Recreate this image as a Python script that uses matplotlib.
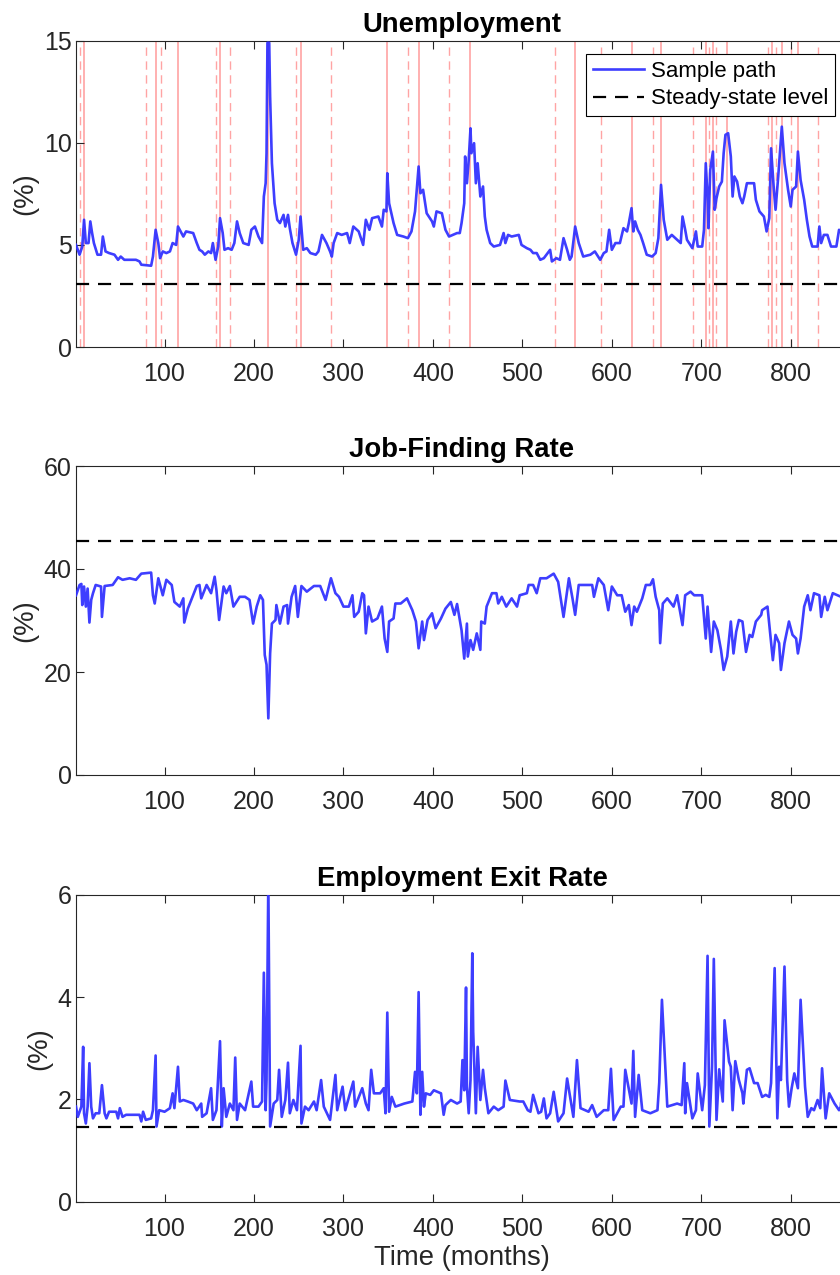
import numpy as np
import matplotlib
matplotlib.use("Agg")
import matplotlib.pyplot as plt

plt.rcParams['font.family'] = ['Liberation Sans', 'DejaVu Sans']

# simulated months
T_END = 864

# unemployment sample path (%): (month, value)
unemp = [
    (1, 5.0), (3, 4.76), (5, 4.52), (8, 4.92), (10, 6.23), (12, 5.09), (15, 5.09), (17, 6.15),
    (19, 5.58), (21, 5.09), (25, 4.52), (29, 4.52), (31, 5.41), (34, 4.68), (38, 4.6), (44, 4.52),
    (48, 4.27), (51, 4.43), (55, 4.27), (61, 4.27), (68, 4.27), (72, 4.19), (74, 4.03),
    (85, 3.98), (87, 4.43), (90, 5.74), (93, 5.09), (95, 4.35), (98, 4.68), (102, 4.6), (106, 4.68),
    (109, 5.09), (113, 5.0), (115, 5.9), (119, 5.58), (121, 5.41), (124, 5.66), (132, 5.58),
    (136, 5.09), (139, 4.76), (142, 4.68), (145, 4.52),
    (149, 4.68), (152, 4.6), (154, 5.09), (157, 4.27), (160, 4.92), (162, 6.31), (165, 5.58),
    (167, 4.76), (171, 4.84), (175, 4.76), (178, 5.09), (181, 6.15), (184, 5.58), (188, 5.09),
    (194, 5.0), (197, 5.74), (201, 5.9), (205, 5.41),
    (209, 5.09), (211, 7.37), (213, 8.02), (214, 9.49), (215, 14.9), (217, 14.9), (218, 12.26),
    (220, 9.0), (223, 7.04), (226, 6.23), (229, 6.07), (233, 6.47), (235, 5.9), (238, 6.47),
    (240, 5.82), (243, 5.09), (247, 4.52), (250, 5.25),
    (252, 6.39), (255, 4.76), (259, 4.84), (263, 4.6), (269, 4.52), (272, 4.68), (276, 5.49),
    (281, 5.09), (285, 4.68), (287, 4.43),
    (289, 5.09), (293, 5.58), (298, 5.49), (304, 5.58), (307, 5.09), (311, 5.9), (317, 5.66),
    (322, 5.0), (325, 6.23), (329, 5.74), (332, 6.31), (339, 6.39), (343, 5.9), (345, 6.72),
    (348, 6.64), (349, 8.51), (351, 7.04), (356, 6.07),
    (360, 5.49), (367, 5.41), (372, 5.33), (376, 5.66), (380, 6.64), (384, 8.84), (386, 7.53),
    (389, 7.7), (393, 6.55), (399, 6.15), (401, 5.9), (404, 6.64), (410, 6.55), (414, 5.74),
    (418, 5.41), (427, 5.58), (430, 5.58), (432, 6.07),
    (435, 7.04), (436, 9.33), (438, 8.02), (440, 9.16), (442, 10.71), (443, 9.49), (446, 9.98),
    (448, 8.02), (450, 9.0), (453, 7.37), (456, 7.86), (458, 6.39), (460, 5.74), (464, 5.09),
    (468, 4.92), (475, 5.0), (479, 5.58), (481, 5.09),
    (484, 5.49), (488, 5.41), (496, 5.49), (499, 5.0), (505, 4.84), (509, 4.76), (512, 4.6),
    (516, 4.6), (520, 4.27), (524, 4.35), (531, 4.76), (533, 4.19), (538, 4.35), (542, 4.27),
    (546, 5.33), (550, 4.76), (553, 4.27), (555, 4.43),
    (559, 5.9), (563, 5.09), (568, 4.43), (576, 4.52), (581, 4.68),
    (587, 4.27), (591, 4.6), (594, 4.68), (597, 5.74), (600, 4.76), (604, 5.09), (609, 5.09),
    (613, 5.82), (617, 5.66), (619, 6.07), (622, 6.8), (624, 5.66), (626, 6.15), (629, 5.74),
    (632, 5.49), (635, 5.09), (639, 4.52), (645, 4.43),
    (649, 4.6), (652, 5.33), (655, 7.94), (658, 6.23), (662, 5.25), (667, 5.49), (673, 5.25),
    (677, 5.09), (679, 6.39), (682, 5.74), (684, 5.25), (690, 4.84), (694, 5.66), (696, 4.92),
    (701, 4.92), (703, 5.74), (705, 9.0), (707, 7.37),
    (708, 5.82), (710, 8.67), (713, 9.57), (715, 6.72), (717, 7.29), (720, 7.86), (723, 8.1),
    (725, 9.49), (727, 10.39), (730, 10.47), (733, 9.33), (735, 7.37), (737, 8.35), (740, 8.1),
    (743, 7.37), (746, 7.04), (748, 7.37), (751, 8.02),
    (759, 8.02), (761, 7.21), (765, 6.64), (770, 6.39), (773, 5.66), (776, 6.31), (778, 9.73),
    (781, 7.78), (783, 6.72), (786, 8.35), (790, 10.79), (793, 9.0), (797, 7.7), (800, 6.88),
    (802, 7.7), (806, 7.86), (808, 9.57), (811, 8.18),
    (815, 7.21), (818, 6.23), (821, 5.41), (824, 4.92), (830, 4.92), (832, 5.9), (834, 5.09),
    (837, 5.49), (841, 5.49), (845, 4.92), (851, 4.92), (854, 5.74), (858, 5.5), (864, 5.3),
]
unemp_steady = 3.10

# job-finding rate (%): (month, value)
jobfind = [
    (1, 34.9), (5, 36.9), (7, 37.1), (8, 33.0), (10, 36.6), (12, 32.7), (14, 36.2), (16, 29.6),
    (18, 34.0), (20, 35.3), (23, 36.9), (29, 36.6), (30, 30.7), (33, 36.7), (42, 36.9), (48, 38.4),
    (53, 37.9), (61, 38.2), (68, 37.9), (74, 39.1), (85, 39.3), (87, 34.9), (89, 33.3), (93, 38.2),
    (98, 34.9), (102, 37.9), (108, 36.9), (111, 33.6), (117, 32.7), (121, 34.3), (122, 29.6),
    (126, 32.3), (136, 36.7), (139, 36.9), (141, 34.3), (147, 36.9), (152, 35.3), (156, 38.5),
    (158, 35.9), (161, 30.1), (166, 36.6), (169, 35.3), (173, 36.7), (177, 32.7), (184, 34.6),
    (190, 34.6), (195, 34.0), (199, 29.4), (203, 32.7), (207, 34.9), (210, 34.0), (212, 23.3),
    (214, 21.4), (216, 11.0), (218, 23.6), (220, 29.4), (224, 30.1), (225, 33.0), (229, 29.4),
    (233, 32.7), (237, 33.0), (238, 29.4), (242, 34.6), (246, 36.7), (249, 30.7), (253, 36.7),
    (259, 35.6), (267, 36.7), (274, 36.7), (280, 34.0), (286, 38.2), (291, 35.3), (295, 34.6),
    (300, 32.7), (306, 32.7), (310, 34.9), (312, 30.7), (317, 31.7), (321, 35.3), (323, 34.9),
    (325, 27.5), (328, 32.7), (332, 29.8), (338, 30.4), (343, 32.7), (346, 26.5), (349, 23.9),
    (351, 29.8), (356, 30.4), (358, 33.3), (364, 33.3), (371, 34.3), (377, 32.0), (381, 29.8),
    (384, 24.6), (388, 29.8), (390, 26.2), (394, 30.1), (399, 31.4), (403, 28.5), (409, 30.4),
    (414, 32.3), (420, 33.6), (424, 31.1), (427, 33.2),
    (432, 28.1), (435, 22.6), (438, 29.4), (439, 23.0), (442, 26.2), (445, 24.3), (449, 27.5),
    (453, 24.3), (454, 29.8), (458, 29.4), (460, 32.7), (466, 35.3), (471, 35.3), (473, 33.3),
    (477, 34.6), (482, 32.7), (488, 34.3), (494, 32.7), (497, 34.9), (505, 35.3), (507, 36.9),
    (512, 36.9), (516, 35.3), (520, 38.2), (527, 38.2), (535, 39.1), (540, 37.5), (546, 30.7),
    (552, 38.2), (556, 34.3), (559, 31.1), (563, 36.9), (572, 36.9), (578, 36.9), (580, 34.6),
    (585, 38.2), (591, 36.9), (596, 32.0), (600, 36.6), (606, 34.9), (611, 34.9), (615, 31.7),
    (619, 33.0), (622, 29.1), (625, 32.7), (628, 31.7), (634, 34.3), (638, 36.9), (643, 36.9),
    (646, 38.0), (649, 34.6), (653, 32.0), (654, 25.6), (657, 33.3), (662, 34.3), (669, 32.7),
    (673, 34.9), (679, 29.1), (682, 34.9), (688, 35.6), (692, 34.9), (701, 34.9), (705, 26.5),
    (707, 32.7), (711, 23.9), (714, 29.8), (718, 28.1), (722, 24.3), (725, 20.4), (729, 23.0),
    (733, 29.8), (736, 23.6), (739, 27.8), (742, 30.1), (746, 29.8), (750, 23.9), (754, 27.2),
    (757, 26.8), (761, 29.8), (767, 31.1), (768, 32.0), (774, 32.7), (778, 25.9), (780, 22.3),
    (783, 27.2), (787, 25.6), (789, 20.4), (793, 25.6), (798, 29.8), (802, 27.2), (806, 26.5),
    (808, 23.6), (811, 26.5), (815, 32.7), (819, 34.9), (822, 32.0), (826, 35.3), (832, 34.9),
    (834, 30.7), (838, 34.6), (841, 32.0), (847, 35.3), (856, 34.6), (864, 34.8),
]
jobfind_steady = 45.4

# employment exit rate (%): (month, value)
exitrate = [
    (1, 1.86), (3, 1.66), (7, 1.86), (9, 3.03), (10, 1.73), (12, 1.53), (14, 1.86), (16, 2.71),
    (18, 1.86), (20, 1.63), (23, 1.73), (27, 1.73), (30, 2.28), (33, 1.73), (35, 1.63), (38, 1.76),
    (46, 1.76), (48, 1.63), (50, 1.83), (53, 1.66), (57, 1.7), (72, 1.7), (74, 1.57), (76, 1.76),
    (79, 1.6), (85, 1.63), (87, 1.79), (90, 2.86), (91, 1.47), (94, 1.79), (100, 1.76),
    (106, 1.83), (109, 2.12), (111, 1.83), (115, 2.64), (117, 1.96), (121, 1.99), (126, 1.96),
    (132, 1.92), (136, 1.79), (141, 1.92), (142, 1.66), (147, 1.73), (152, 2.22), (154, 1.6),
    (158, 1.79), (162, 3.14), (164, 1.47), (166, 2.22), (169, 1.66), (173, 1.92), (177, 1.79),
    (179, 2.82), (181, 1.6), (184, 1.92), (190, 1.79), (197, 2.35), (199, 1.86), (205, 1.86),
    (209, 1.96), (211, 4.48), (213, 1.79), (214, 2.38), (216, 6.3), (218, 1.47), (222, 1.92),
    (226, 1.99), (228, 2.58), (231, 1.66), (235, 1.99), (238, 2.72), (240, 1.73), (244, 1.99),
    (248, 1.79), (252, 3.05), (253, 1.53), (257, 1.86), (261, 1.79), (267, 1.96), (270, 1.79),
    (275, 2.38), (278, 1.86), (285, 1.6), (291, 2.48), (293, 1.79), (299, 2.25), (302, 1.79),
    (311, 2.35), (313, 1.86), (321, 2.22), (325, 1.92), (328, 1.79), (331, 2.58), (334, 2.12),
    (341, 2.12), (345, 2.22), (347, 1.73), (349, 3.7), (351, 1.76), (354, 2.05), (358, 1.86),
    (368, 1.92), (377, 1.96), (380, 2.54), (382, 2.12), (384, 4.1), (386, 1.7), (388, 2.54),
    (390, 1.86), (392, 2.12), (397, 2.09), (401, 2.18), (409, 2.12), (412, 1.7), (414, 1.89),
    (420, 1.99), (427, 1.92),
    (431, 1.96), (433, 2.77), (435, 2.18), (437, 4.19), (438, 2.25), (440, 1.73), (442, 2.38),
    (444, 4.86), (445, 3.33), (448, 1.73), (450, 3.03), (453, 1.99), (456, 2.58), (458, 2.22),
    (462, 1.73), (468, 1.86), (473, 1.79), (479, 1.86), (481, 2.37), (486, 1.99), (497, 1.96),
    (501, 1.96), (506, 1.79), (509, 1.76), (512, 2.09), (518, 1.73), (521, 1.76), (524, 2.02),
    (527, 1.63), (531, 1.73), (535, 2.15), (540, 1.57), (546, 1.73), (550, 2.41), (557, 1.66),
    (561, 2.77), (565, 1.83), (574, 1.76), (578, 1.89), (583, 1.66), (591, 1.79), (596, 1.79),
    (599, 2.6), (602, 1.6), (610, 1.86), (613, 1.86), (615, 2.58), (622, 1.92), (624, 2.95),
    (626, 1.66), (630, 2.48), (634, 1.79), (643, 1.73), (651, 1.79), (653, 2.33), (656, 3.95),
    (662, 1.86), (673, 1.92), (678, 1.89), (681, 2.71), (682, 1.73), (684, 2.32), (690, 1.63),
    (694, 1.79), (696, 2.51), (701, 1.79), (704, 2.28), (707, 4.81), (709, 1.47), (712, 2.64),
    (714, 4.75), (717, 1.6), (720, 2.59), (724, 1.96), (726, 3.55), (731, 2.74), (733, 2.64),
    (735, 1.79), (738, 2.75), (742, 2.38), (746, 2.12), (747, 1.92), (751, 2.58), (754, 2.61),
    (759, 2.32), (763, 2.32), (768, 2.05), (772, 2.09), (776, 2.05), (778, 2.32), (782, 4.57),
    (785, 1.63), (787, 2.64), (789, 2.38), (793, 4.6), (796, 2.38), (798, 1.86), (801, 2.22),
    (804, 2.51), (808, 2.22), (811, 3.95), (816, 2.25), (819, 1.66), (823, 1.83), (826, 1.79),
    (830, 1.99), (833, 1.83), (835, 2.61), (839, 1.63), (843, 2.12), (849, 1.92), (854, 1.79),
    (856, 1.86), (858, 2.54), (864, 2.0),
]
exitrate_steady = 1.46

# recession markers on the unemployment panel: start (dashed) and end (solid)
rec_start = [5, 79, 96, 158, 173, 247, 286, 372, 418, 536, 588, 646, 691, 709, 716, 775, 784, 800, 831]
rec_end = [10, 90, 115, 162, 216, 252, 349, 384, 442, 559, 622, 655, 705, 713, 729, 779, 790, 808]

BLUE = (0.2, 0.2, 1.0)
AXC = '#262626'
FS = 18      # tick labels
FL = 19.8    # titles and axis labels

fig = plt.figure(figsize=(8.4, 12.75), dpi=100)

L, W = 76 / 840, 772 / 840
panels = [
    dict(top=40.7, bot=347.0, title='Unemployment', data=unemp, ss=unemp_steady,
         yt=[0, 5, 10, 15], ylim=(0, 15)),
    dict(top=466.0, bot=775.0, title='Job-Finding Rate', data=jobfind, ss=jobfind_steady,
         yt=[0, 20, 40, 60], ylim=(0, 60)),
    dict(top=895.0, bot=1201.7, title='Employment Exit Rate', data=exitrate, ss=exitrate_steady,
         yt=[0, 2, 4, 6], ylim=(0, 6)),
]

for i, p in enumerate(panels):
    ax = fig.add_axes([L, 1 - p['bot'] / 1275, W, (p['bot'] - p['top']) / 1275])
    if i == 0:
        for m in rec_start:
            ax.axvline(m, color=(1, 0.35, 0.35), alpha=0.55, lw=1.0, ls=(0, (6, 4)), zorder=1)
        for m in rec_end:
            ax.axvline(m, color=(1, 0.35, 0.35), alpha=0.55, lw=1.2, zorder=1)
    month, value = zip(*p['data'])
    ax.plot(month, value, color=BLUE, lw=1.9, alpha=0.95, zorder=3, label='Sample path')
    ax.axhline(p['ss'], color='black', lw=1.6, ls=(0, (5.9, 4.0)), zorder=4,
               label='Steady-state level')
    ax.set_xlim(1, T_END)
    ax.set_ylim(*p['ylim'])
    ax.set_yticks(p['yt'])
    ax.set_xticks(range(100, 900, 100))
    ax.tick_params(direction='in', length=6, width=0.8, colors=AXC, labelsize=FS,
                   top=True, right=True)
    ax.tick_params(axis='x', pad=11)
    ax.tick_params(axis='y', pad=3)
    for sp in ax.spines.values():
        sp.set_color(AXC)
        sp.set_linewidth(0.8)
    ax.set_title(p['title'], fontsize=FL, fontweight='bold', pad=6.5)
    ax.set_ylabel('(%)', fontsize=FL, color=AXC, labelpad=4)
    if i == 0:
        leg = ax.legend(loc='upper right', fontsize=16, frameon=True, fancybox=False,
                        edgecolor='black', framealpha=1, handlelength=2.3, borderaxespad=0.6,
                        borderpad=0.3, labelspacing=0.3, handletextpad=0.3)
        leg.get_frame().set_linewidth(0.8)
    if i == 2:
        ax.set_xlabel('Time (months)', fontsize=FL, color=AXC, labelpad=3)

fig.savefig('out.png', dpi=100)
